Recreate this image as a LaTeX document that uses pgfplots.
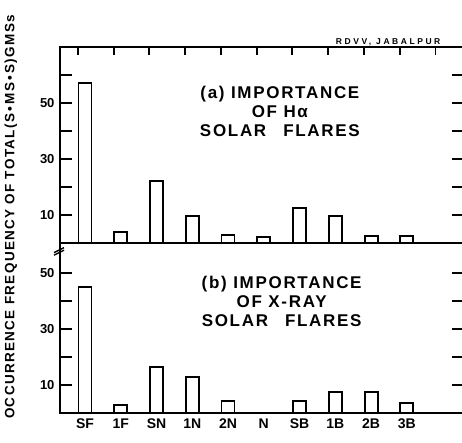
\documentclass[border=0pt]{standalone}
\usepackage{pgfplots}
\pgfplotsset{compat=1.18}
\usepackage{fontspec}
\setmainfont{Liberation Sans}
\newfontfamily\lettering[LetterSpace=10]{Liberation Sans}
\newfontfamily\widelettering[LetterSpace=30]{Liberation Sans}
\begin{document}
\begin{tikzpicture}
\path[use as bounding box] (0pt,0pt) rectangle (462pt,443pt);
\pgfplotsset{
  panel/.style={
    anchor=south west, scale only axis, width=404pt,
    xmin=-0.7, xmax=10.6, ymin=0,
    axis line style={line width=2.2pt},
    ytick={10,30,50}, minor ytick={20,40,60},
    ytick pos=both, tick align=inside,
    major tick length=12pt, minor tick length=12pt,
    every tick/.style={line width=1.8pt, black},
    yticklabel style={font=\bfseries\fontsize{13}{13}\selectfont, xshift=-2pt},
    /pgf/number format/assume math mode=true,
    clip=false,
  },
  bars/.style={ybar, bar width=13pt, bar shift=0pt, draw=black, line width=1.9pt, fill=white},
}
% (a) panel
\begin{axis}[panel, at={(60pt,200pt)}, height=196pt, ymax=70,
  extra x ticks={-0.2,0.8,1.8,2.8,3.8,4.8,5.8,6.8,7.8,8.8,9.8},
  extra x tick labels={}, xtick=\empty,
  extra x tick style={xtick pos=right, major tick length=8pt, tick style={line width=1.8pt}}]
\addplot[bars] coordinates {(0,57) (1,4) (2,22) (3,9.5) (4,3) (5,2) (6,12.4) (7,9.5) (8,2.5) (9,2.5)};
\node[font=\lettering\bfseries\fontsize{17}{19}\selectfont, align=center] at (axis cs:5.45,47) {(a) IMPORTANCE\\OF Hα\\SOLAR\quad FLARES};
\node[font=\widelettering\bfseries\fontsize{8.5}{8.5}\selectfont, anchor=south west, inner sep=1pt] at (rel axis cs:0.68,1) {RDVV, JABALPUR};
\end{axis}
% (b) panel
\begin{axis}[panel, at={(60pt,30pt)}, height=170pt, ymax=60.7,
  minor ytick={20,40},
  xtick={0,1,2,3,4,5,6,7,8,9},
  xticklabels={SF,1F,SN,1N,2N,N,SB,1B,2B,3B},
  xtick pos=left, x tick style={draw=none},
  xticklabel style={font=\bfseries\fontsize{14}{14}\selectfont, yshift=-2pt}]
\addplot[bars] coordinates {(0,45) (1,3) (2,16.4) (3,13) (4,4.3) (5,0) (6,4.3) (7,7.5) (8,7.5) (9,3.5)};
\node[font=\lettering\bfseries\fontsize{17}{19}\selectfont, align=center] at (axis cs:5.5,40) {(b) IMPORTANCE\\OF X-RAY\\SOLAR\quad FLARES};
\fill[white] (rel axis cs:0,0.93) ++(-4pt,0) rectangle ++(8pt,8pt);
\draw[line width=1.4pt] (rel axis cs:0,0.955) ++(-6pt,-2pt) -- ++(10pt,5pt);
\draw[line width=1.4pt] (rel axis cs:0,0.94) ++(-6pt,-2pt) -- ++(10pt,5pt);
\end{axis}
\node[rotate=90, font=\lettering\bfseries\fontsize{13.5}{13.5}\selectfont] at (11pt,226pt) {OCCURRENCE FREQUENCY OF TOTAL(S\,•\,MS\,•\,S)GMSs};
\end{tikzpicture}
\end{document}
